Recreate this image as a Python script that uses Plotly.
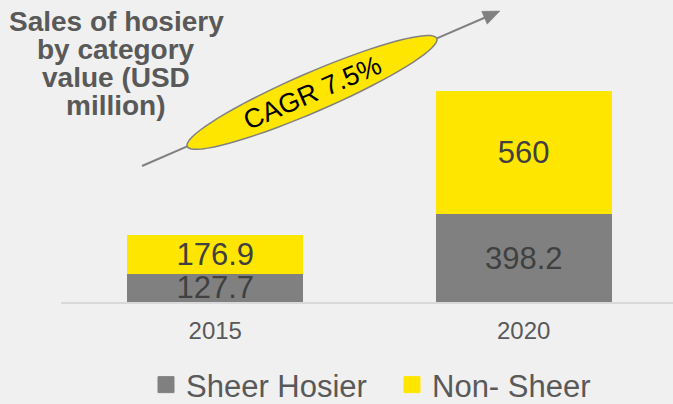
import numpy as np
import plotly.graph_objects as go

# ---- data ----
years = ["2015", "2020"]
sheer_hosier = [127.7, 398.2]
non_sheer = [176.9, 560]
series_names = ["Sheer Hosier", "Non- Sheer"]
title_lines = ["Sales of hosiery", "by category", "value (USD", "million)"]
cagr_label = "CAGR 7.5%"

# ---- style ----
GRAY = "#808080"
YELLOW = "#FFE600"
BG = "#F0F0F0"
TXT = "#595959"
LBL = "#404040"
FONT = "Arial, 'Liberation Sans', sans-serif"

W, H = 673, 404
L, R, T, B = 61, 0, 10, 102
PW, PH = W - L - R, H - T - B


def pxx(x):
    return (x - L) / PW


def pxy(y):
    return (H - B - y) / PH


fig = go.Figure()
for vals, name, col in [(sheer_hosier, series_names[0], GRAY),
                        (non_sheer, series_names[1], YELLOW)]:
    fig.add_trace(go.Bar(
        x=years, y=vals, name=name, marker=dict(color=col, line=dict(width=0)),
        width=0.57, text=[f"{v:g}" for v in vals], textposition="inside",
        insidetextanchor="middle", constraintext="none",
        textfont=dict(family=FONT, size=31, color=LBL),
        showlegend=False, hoverinfo="skip"))
    fig.add_trace(go.Scatter(
        x=[None], y=[None], mode="markers", name=name,
        marker=dict(symbol="square", size=16, color=col,
                    line=dict(width=1, color=col)),
        showlegend=True, hoverinfo="skip"))

# ---- CAGR ellipse + arrow (decoration, pixel geometry) ----
cx, cy, a, b = 312, 92.4, 136, 19.5
ang = np.deg2rad(23.4)
t = np.linspace(0, 2 * np.pi, 73)
ex = cx + a * np.cos(t) * np.cos(ang) - b * np.sin(t) * np.sin(ang)
ey = cy - (a * np.cos(t) * np.sin(ang) + b * np.sin(t) * np.cos(ang))
path = "M " + " L ".join(f"{pxx(x):.5f},{pxy(y):.5f}" for x, y in zip(ex, ey)) + " Z"

tip = np.array([500.0, 11.0])
tail = np.array([142.0, 166.0])
u = (tip - tail) / np.linalg.norm(tip - tail)
nrm = np.array([-u[1], u[0]])
base = tip - 17 * u
p1, p2 = base + 7 * nrm, base - 7 * nrm
head = (f"M {pxx(tip[0]):.5f},{pxy(tip[1]):.5f} L {pxx(p1[0]):.5f},{pxy(p1[1]):.5f} "
        f"L {pxx(p2[0]):.5f},{pxy(p2[1]):.5f} Z")
left_end = np.array([cx - a * np.cos(ang), cy + a * np.sin(ang)])
right_end = np.array([cx + a * np.cos(ang), cy - a * np.sin(ang)])

shapes = [
    dict(type="line", xref="paper", yref="paper",
         x0=pxx(tail[0]), y0=pxy(tail[1]), x1=pxx(left_end[0]), y1=pxy(left_end[1]),
         line=dict(color=GRAY, width=2)),
    dict(type="line", xref="paper", yref="paper",
         x0=pxx(right_end[0]), y0=pxy(right_end[1]), x1=pxx(base[0] + 2 * u[0]),
         y1=pxy(base[1] + 2 * u[1]), line=dict(color=GRAY, width=2)),
    dict(type="path", path=head, xref="paper", yref="paper",
         fillcolor=GRAY, line=dict(color=GRAY, width=0.5)),
    dict(type="path", path=path, xref="paper", yref="paper",
         fillcolor=YELLOW, line=dict(color=GRAY, width=1.5), layer="above"),
]

annotations = [
    dict(x=pxx(312), y=pxy(93), xref="paper", yref="paper", text=cagr_label,
         showarrow=False, textangle=-23.4, xanchor="center", yanchor="middle",
         font=dict(family=FONT, size=27, color="#000000")),
]
title_y = [21, 49.5, 77.4, 105.3]
for line, ty in zip(title_lines, title_y):
    annotations.append(dict(
        x=pxx(116), y=pxy(ty), xref="paper", yref="paper",
        text=f"<b>{line}</b>", showarrow=False, xanchor="center", yanchor="middle",
        font=dict(family=FONT, size=28, color=TXT)))

fig.update_layout(
    width=W, height=H,
    margin=dict(l=L, r=R, t=T, b=B, pad=0, autoexpand=False),
    paper_bgcolor=BG, plot_bgcolor=BG, barmode="stack",
    font=dict(family=FONT, color=TXT),
    xaxis=dict(type="category", range=[-0.5, 1.484], showline=True,
               linecolor="#D9D9D9", linewidth=2, showgrid=False, ticks="",
               ticklabelstandoff=6,
               tickfont=dict(size=24, color=TXT), fixedrange=True),
    yaxis=dict(range=[0, 292 / 0.2205], visible=False, showgrid=False,
               zeroline=False, fixedrange=True),
    legend=dict(orientation="h", x=pxx(392), xanchor="center", traceorder="normal",
                y=pxy(385), yanchor="middle", entrywidth=201,
                font=dict(family=FONT, size=31, color=TXT),
                bgcolor="rgba(0,0,0,0)"),
    shapes=shapes, annotations=annotations, showlegend=True,
)

fig.write_html("out.html", config={"displayModeBar": False},
               post_script="document.body.style.margin='0';document.body.style.overflow='hidden';")
